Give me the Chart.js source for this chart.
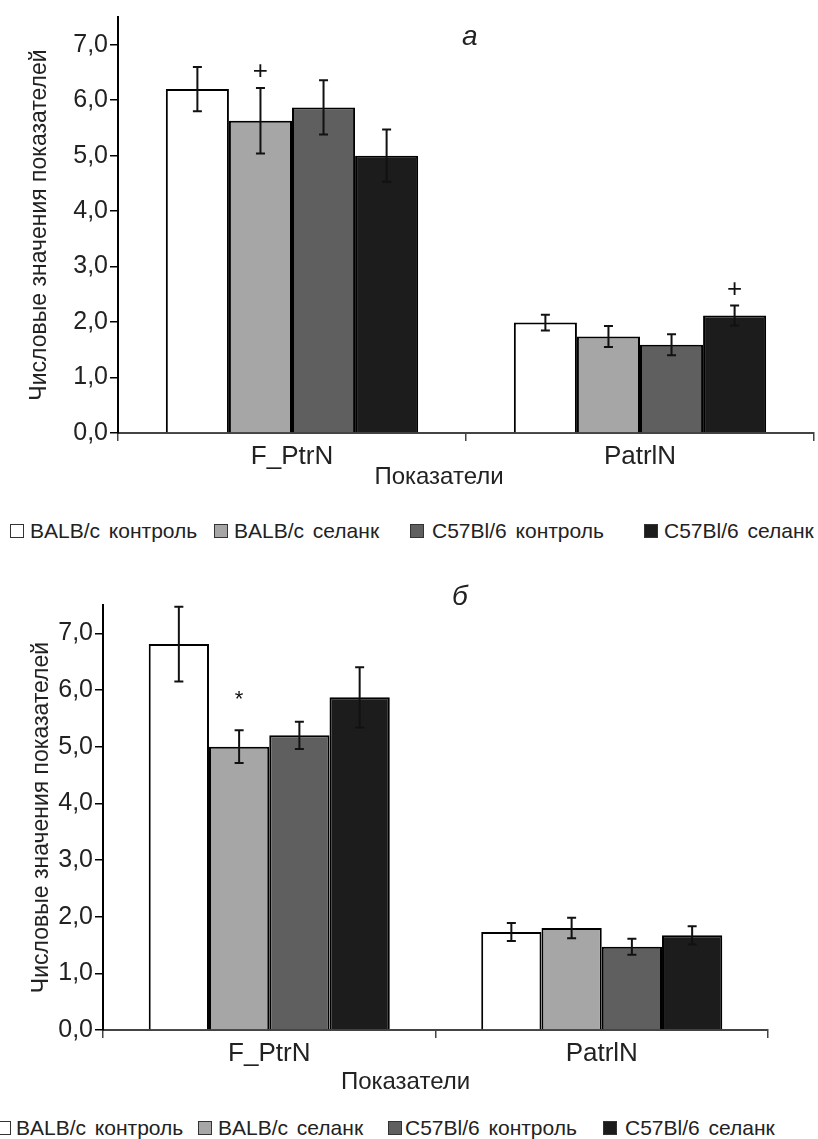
<!DOCTYPE html>
<html>
<head>
<meta charset="utf-8">
<script src="https://cdn.jsdelivr.net/npm/chart.js@4.4.1/dist/chart.umd.min.js"></script>
<style>
  body { margin: 0; background: #fff; }
  #page { position: relative; width: 818px; height: 1139px; overflow: hidden; font-family: "Liberation Sans", Arial, sans-serif; color: #222; }
  .box { position: absolute; left: 0; width: 818px; }
  .panel-letter { position: absolute; font-style: italic; font-size: 28px; line-height: 28px; }
  .legend-item { position: absolute; font-size: 21px; line-height: 22px; white-space: nowrap; word-spacing: 3px; }
  .legend-item span.sw { position: absolute; top: 4px; width: 12px; height: 12px; border: 1.5px solid #333; }
</style>
</head>
<body>
<div id="page">
  <div class="box" style="top:0; height:500px;"><canvas id="chartA"></canvas></div>
  <div class="panel-letter" style="left:462px; top:22px;">а</div>
  <div id="legendA"></div>

  <div class="box" style="top:560px; height:530px;"><canvas id="chartB"></canvas></div>
  <div class="panel-letter" style="left:452px; top:582px;">б</div>
  <div id="legendB"></div>
</div>

<script>
// categories and series names
const categories = ['F_PtrN', 'PatrlN'];
const seriesNames = ['BALB/c контроль', 'BALB/c селанк', 'C57Bl/6 контроль', 'C57Bl/6 селанк'];
const seriesColors = ['#ffffff', '#a6a6a6', '#5f5f5f', '#1c1c1c'];
const yTickValues = [0, 1, 2, 3, 4, 5, 6, 7];

// panel а
const balbControlA = [6.20, 1.99];
const balbSelankA = [5.63, 1.74];
const c57ControlA = [5.87, 1.59];
const c57SelankA = [5.00, 2.12];
const balbControlErrA = [0.40, 0.14];
const balbSelankErrA = [0.59, 0.19];
const c57ControlErrA = [0.49, 0.19];
const c57SelankErrA = [0.47, 0.18];
const marksA = [[1, 0, '+'], [3, 1, '+']];

// panel б
const balbControlB = [6.81, 1.73];
const balbSelankB = [5.00, 1.80];
const c57ControlB = [5.20, 1.47];
const c57SelankB = [5.87, 1.67];
const balbControlErrB = [0.66, 0.16];
const balbSelankErrB = [0.29, 0.18];
const c57ControlErrB = [0.24, 0.14];
const c57SelankErrB = [0.53, 0.16];
const marksB = [[1, 0, '*']];

const FONT = '"Liberation Sans", Arial, sans-serif';

// error bars + significance marks
const errorBarPlugin = {
  id: 'errorBars',
  afterDatasetsDraw(chart, args, opts) {
    const ctx = chart.ctx;
    const y = chart.scales.y;
    ctx.save();
    ctx.strokeStyle = '#111';
    ctx.lineWidth = 2;
    chart.data.datasets.forEach((ds, i) => {
      chart.getDatasetMeta(i).data.forEach((bar, j) => {
        const v = ds.data[j], e = ds.errors[j];
        const top = y.getPixelForValue(v + e);
        const bot = y.getPixelForValue(v - e);
        ctx.beginPath();
        ctx.moveTo(bar.x, top); ctx.lineTo(bar.x, bot);
        ctx.moveTo(bar.x - 4.5, top); ctx.lineTo(bar.x + 4.5, top);
        ctx.moveTo(bar.x - 4.5, bot); ctx.lineTo(bar.x + 4.5, bot);
        ctx.stroke();
      });
    });
    ctx.fillStyle = '#111';
    ctx.textAlign = 'center';
    ctx.textBaseline = 'middle';
    (opts.marks || []).forEach(([di, ci, sym]) => {
      const ds = chart.data.datasets[di];
      const bar = chart.getDatasetMeta(di).data[ci];
      const top = y.getPixelForValue(ds.data[ci] + ds.errors[ci]);
      const lift = sym === '*' ? 30 : 16;
      ctx.font = (sym === '*' ? '22px ' : '26px ') + FONT;
      ctx.fillText(sym, bar.x, top - lift);
    });
    ctx.restore();
  }
};

// x axis title, sits a bit left of the plot centre like the original
const xTitlePlugin = {
  id: 'xTitle',
  afterDraw(chart, args, opts) {
    const ctx = chart.ctx;
    const a = chart.chartArea;
    ctx.save();
    ctx.font = '24px ' + FONT;
    ctx.fillStyle = '#222';
    ctx.textAlign = 'center';
    ctx.textBaseline = 'middle';
    ctx.fillText(opts.text, (a.left + a.right) / 2 + opts.shift, opts.y);
    ctx.restore();
  }
};

function makeChart(id, values, errors, marks, geo) {
  const ctx = document.getElementById(id).getContext('2d');
  return new Chart(ctx, {
    type: 'bar',
    data: {
      labels: categories,
      datasets: values.map((v, i) => ({
        label: seriesNames[i],
        data: v,
        errors: errors[i],
        backgroundColor: seriesColors[i],
        borderColor: '#000',
        borderWidth: 2,
        borderSkipped: 'start',
        categoryPercentage: 0.725,
        barPercentage: 1
      }))
    },
    options: {
      responsive: true,
      maintainAspectRatio: false,
      animation: false,
      layout: { padding: { top: geo.top, right: geo.right, left: 0, bottom: 0 } },
      scales: {
        x: {
          afterFit: s => { s.height = geo.xHeight; },
          border: { display: true, color: '#444', width: 2 },
          grid: { drawOnChartArea: false, drawTicks: true, tickLength: 8, color: '#444', lineWidth: 1.5 },
          ticks: { color: '#222', font: { family: FONT, size: 26 }, padding: 0 }
        },
        y: {
          min: 0,
          max: 7.5,
          afterFit: s => { s.width = geo.yWidth; },
          afterBuildTicks: s => { s.ticks = yTickValues.map(v => ({ value: v })); },
          border: { display: true, color: '#000', width: 2 },
          grid: { drawOnChartArea: false, drawTicks: true, tickLength: 8, color: '#000', lineWidth: 1.5 },
          ticks: {
            color: '#222',
            padding: 2,
            font: { family: FONT, size: 25 },
            callback: v => v.toFixed(1).replace('.', ',')
          },
          title: {
            display: true,
            text: 'Числовые значения показателей',
            color: '#222',
            font: { family: FONT, size: 23 },
            padding: { top: geo.titlePad, bottom: 0 }
          }
        }
      },
      plugins: {
        legend: { display: false },
        tooltip: { enabled: false },
        errorBars: { marks: marks },
        xTitle: { text: 'Показатели', shift: geo.xTitleShift, y: geo.xTitleY }
      }
    },
    plugins: [errorBarPlugin, xTitlePlugin]
  });
}

function makeLegend(id, top, spots) {
  const host = document.getElementById(id);
  seriesNames.forEach((name, i) => {
    const item = document.createElement('div');
    item.className = 'legend-item';
    item.style.top = top + 'px';
    item.style.left = spots[i][0] + 'px';
    item.style.paddingLeft = (spots[i][1] - spots[i][0]) + 'px';
    const sw = document.createElement('span');
    sw.className = 'sw';
    sw.style.left = '0px';
    sw.style.background = seriesColors[i];
    item.appendChild(sw);
    item.appendChild(document.createTextNode(name));
    host.appendChild(item);
  });
}

makeChart('chartA',
  [balbControlA, balbSelankA, c57ControlA, c57SelankA],
  [balbControlErrA, balbSelankErrA, c57ControlErrA, c57SelankErrA],
  marksA,
  { top: 14, right: 4, yWidth: 118, xHeight: 67, titlePad: 26, xTitleShift: -27, xTitleY: 477 });

makeChart('chartB',
  [balbControlB, balbSelankB, c57ControlB, c57SelankB],
  [balbControlErrB, balbSelankErrB, c57ControlErrB, c57SelankErrB],
  marksB,
  { top: 45, right: 50, yWidth: 103, xHeight: 60, titlePad: 28, xTitleShift: -30, xTitleY: 522 });

makeLegend('legendA', 520, [[10, 30], [214, 234], [410, 432], [644, 664]]);
makeLegend('legendB', 1117, [[-3, 16], [198, 218], [388, 405], [603, 625]]);
</script>
</body>
</html>
